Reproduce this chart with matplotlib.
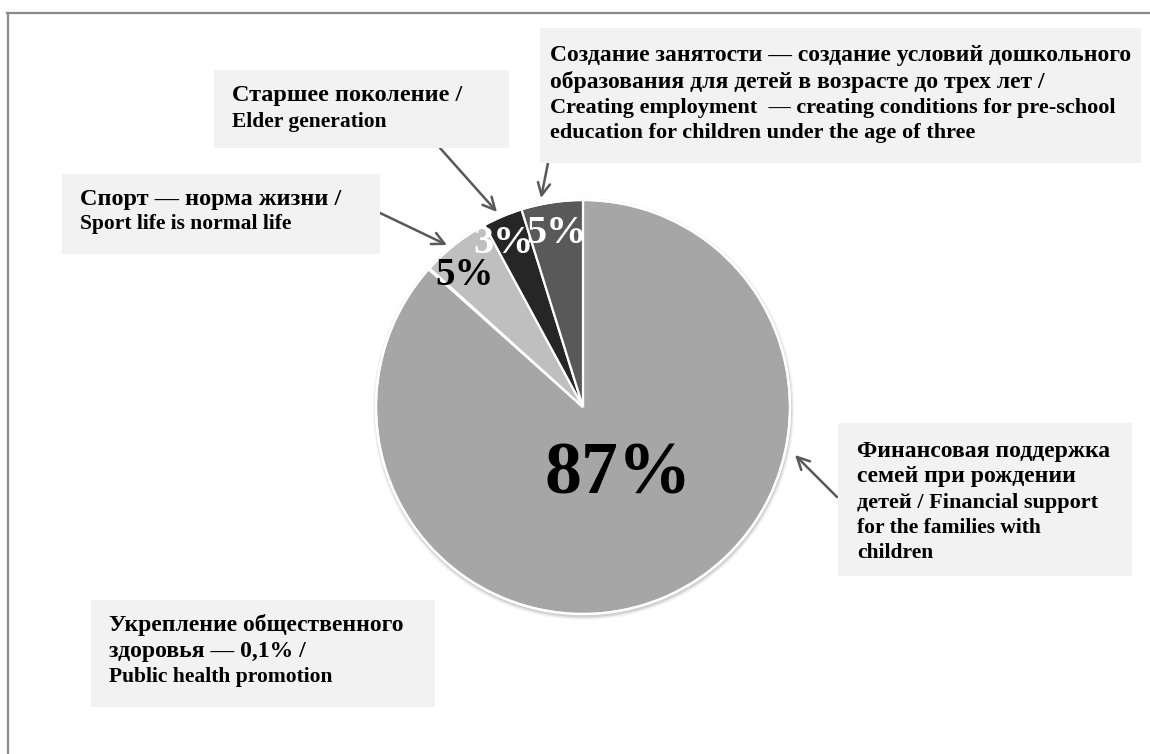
import matplotlib
matplotlib.use("Agg")
import matplotlib.pyplot as plt
from matplotlib.patches import Rectangle, Circle
from matplotlib.lines import Line2D
import numpy as np

plt.rcParams['font.family'] = ['Liberation Serif', 'DejaVu Serif']

# ---- data ----
categories = [
    "Финансовая поддержка семей при рождении детей / Financial support for the families with children",
    "Укрепление общественного здоровья — 0,1% / Public health promotion",
    "Спорт — норма жизни / Sport life is normal life",
    "Старшее поколение / Elder generation",
    "Создание занятости — создание условий дошкольного образования для детей в возрасте до трех лет / Creating employment",
]
values = [86.6, 0.1, 5.4, 3.1, 4.8]
pct_labels = ["87%", "", "5%", "3%", "5%"]

# ---- styles ----
colors = ["#a6a6a6", "#d9d9d9", "#bfbfbf", "#262626", "#595959"]
label_colors = ["black", "black", "black", "white", "white"]
label_sizes = [53, 1, 28, 29, 29]
label_dist = [0.453, 0.9, 0.823, 0.836, 0.803]
label_angle_shift = [-1.9, 0, 6.1, 4.3, 0.7]

W, H = 1150, 754
fig = plt.figure(figsize=(W / 100, H / 100), dpi=100)
fig.patch.set_facecolor("white")

def fx(px):
    return px / W

def fy(py):
    return 1 - py / H

# pie axes
cx, cy, R = 583, 407, 207
ax = fig.add_axes([fx(cx - R), fy(cy + R), 2 * R / W, 2 * R / H])
ax.axis("off")

# soft shadow behind the pie
for k, a in enumerate([0.09, 0.06, 0.04]):
    ax.add_patch(Circle((0.003, -0.010), 1.0 + 0.006 * (k + 1), color="black",
                        alpha=a, lw=0, zorder=0, clip_on=False))

wedges, _ = ax.pie(values, colors=colors, startangle=90, counterclock=False,
                   radius=1.0, wedgeprops=dict(edgecolor="white", linewidth=1.6))
for w in wedges:
    w.set_clip_on(False)
ax.add_patch(Circle((0, 0), 1.0, fill=False, edgecolor="white", lw=1.6, zorder=3,
                    clip_on=False))
ax.set_xlim(-1, 1)
ax.set_ylim(-1, 1)
ax.set_aspect("equal")

for w, lab, c, s, d, sh in zip(wedges, pct_labels, label_colors, label_sizes,
                               label_dist, label_angle_shift):
    if not lab:
        continue
    th = np.deg2rad((w.theta1 + w.theta2) / 2 + sh)
    ax.text(d * np.cos(th), d * np.sin(th), lab, ha="center", va="baseline",
            color=c, fontsize=s, fontweight="bold", zorder=5)

# frame lines
fig.add_artist(Line2D([fx(7), fx(1150)], [fy(12.5), fy(12.5)], color="#8a8a8a", lw=1.6))
fig.add_artist(Line2D([fx(7.5), fx(7.5)], [fy(12.5), fy(754)], color="#8a8a8a", lw=1.6))

box_color = "#f2f2f2"

def box(x0, y0, x1, y1):
    fig.add_artist(Rectangle((fx(x0), fy(y1)), fx(x1) - fx(x0), fy(y0) - fy(y1),
                             facecolor=box_color, edgecolor="none", zorder=1))

def lines(x, ys, texts, sizes):
    for y, t, s in zip(ys, texts, sizes):
        fig.text(fx(x), fy(y), t, ha="left", va="center", fontsize=s,
                 fontweight="bold", color="black", zorder=3)

# employment box
box(540, 28, 1141, 163)
lines(550, [55, 82, 108, 133],
      ["Создание занятости — создание условий дошкольного",
       "образования для детей в возрасте до трех лет /",
       "Creating employment  — creating conditions for pre-school",
       "education for children under the age of three"],
      [17, 17, 16, 16])

# elder box
box(214, 70, 509, 148)
lines(232, [96, 122], ["Старшее поколение /", "Elder generation"], [17.5, 15.5])

# sport box
box(62, 174, 380, 254)
lines(80, [199, 224], ["Спорт — норма жизни /", "Sport life is normal life"], [17.5, 15.5])

# financial box
box(838, 423, 1132, 576)
lines(857, [452, 477, 503, 528, 553],
      ["Финансовая поддержка", "семей при рождении", "детей / Financial support",
       "for the families with", "children"],
      [17, 17, 16, 15.5, 15.5])

# public health box
box(91, 600, 435, 707)
lines(109, [625, 651, 677],
      ["Укрепление общественного", "здоровья — 0,1% /", "Public health promotion"],
      [17, 17, 15.5])

# arrows (tail in figure pixels, tip on pie in data coords)
arrow_tails = [(548, 163), (440, 148), (378, 212), (837, 497)]
arrow_tips = [(541, 198), (497, 212), (447, 245), (795, 455)]
for (tx, ty), (hx, hy) in zip(arrow_tails, arrow_tips):
    ax.annotate("", xy=((hx - cx) / R, (cy - hy) / R), xycoords="data",
                xytext=(fx(tx), fy(ty)), textcoords="figure fraction",
                arrowprops=dict(arrowstyle="->", color="#595959", lw=1.8,
                                mutation_scale=22, shrinkA=0, shrinkB=0),
                annotation_clip=False, zorder=6)

fig.savefig("out.png", dpi=100, facecolor="white")
